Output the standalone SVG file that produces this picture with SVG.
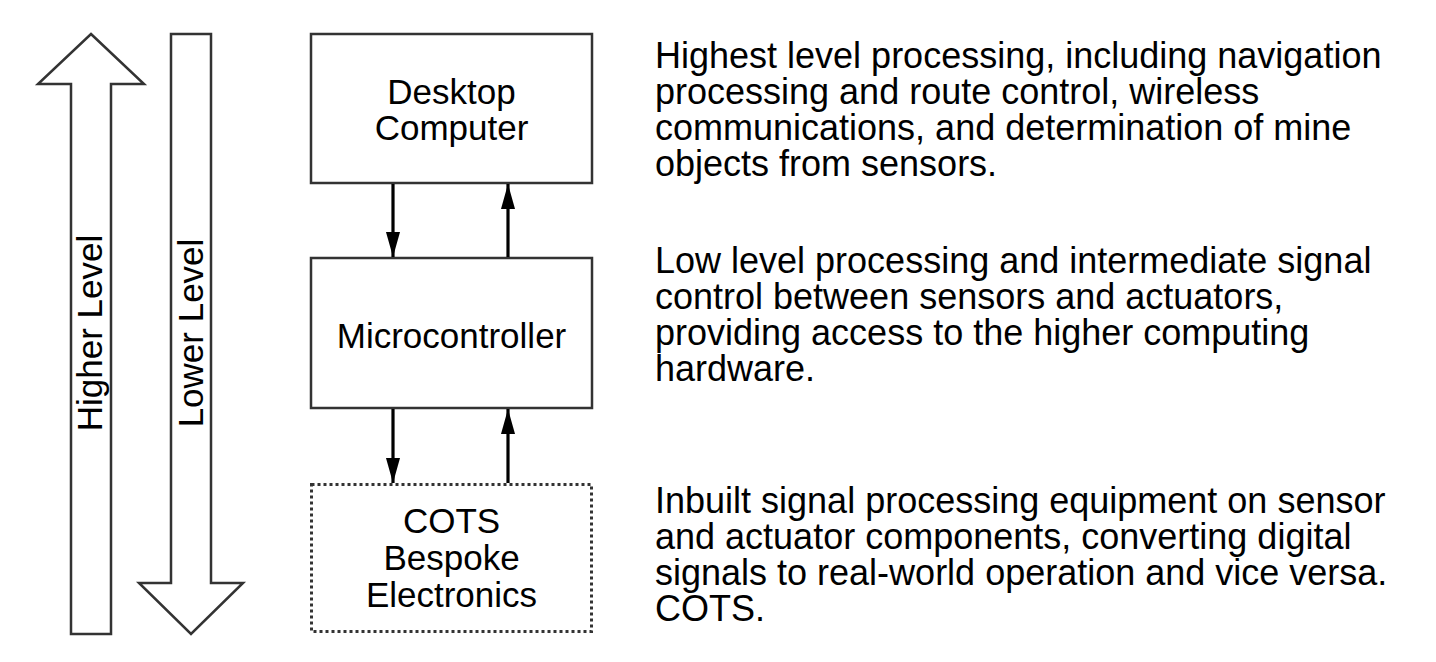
<svg xmlns="http://www.w3.org/2000/svg" width="1436" height="662" viewBox="0 0 1436 662">
<style>
.shape{fill:#fff;stroke:#333;stroke-width:2.5}
.dotted{fill:#fff;stroke:#333;stroke-width:3;stroke-dasharray:3 3}
.t{font-family:"Liberation Sans",Arial,sans-serif;font-size:36px;fill:#000}
.b{font-size:35px}
.c{text-anchor:middle}
.conn{stroke:#000;stroke-width:3.2;fill:none}
</style>
<defs>
<marker id="ah" viewBox="0 0 25 14" refX="25" refY="7" markerWidth="25" markerHeight="14" markerUnits="userSpaceOnUse" orient="auto">
<path d="M0,0 L25,7 L0,14 Z" fill="#000"/>
</marker>
</defs>
<rect width="1436" height="662" fill="#fff"/>
<g id="higher-level">
<polygon class="shape" points="91,34 144,84 111,84 111,634 71,634 71,84 38,84"/>
<text class="t b c" transform="translate(102,333) rotate(-90)">Higher Level</text>
</g>
<g id="lower-level">
<polygon class="shape" points="171,34 211,34 211,583 243,583 191,634 139,583 171,583"/>
<text class="t b c" transform="translate(203,333) rotate(-90)">Lower Level</text>
</g>
<g id="desktop">
<rect class="shape" x="311" y="34" width="281" height="149"/>
<text class="t b c" x="451.5" y="104">Desktop</text>
<text class="t b c" x="451.5" y="140">Computer</text>
</g>
<g id="microcontroller">
<rect class="shape" x="311" y="258" width="281" height="150"/>
<text class="t b c" x="451.5" y="348">Microcontroller</text>
</g>
<g id="cots">
<rect class="dotted" x="311.5" y="484.5" width="280" height="147"/>
<text class="t b c" x="451.5" y="533">COTS</text>
<text class="t b c" x="451.5" y="570">Bespoke</text>
<text class="t b c" x="451.5" y="607">Electronics</text>
</g>
<g id="connectors">
<line class="conn" x1="393" y1="184" x2="393" y2="257" marker-end="url(#ah)"/>
<line class="conn" x1="508" y1="257" x2="508" y2="184" marker-end="url(#ah)"/>
<line class="conn" x1="393" y1="409" x2="393" y2="483" marker-end="url(#ah)"/>
<line class="conn" x1="508" y1="483" x2="508" y2="409" marker-end="url(#ah)"/>
</g>
<g id="desc-high">
<text class="t" x="655" y="68">Highest level processing, including navigation</text>
<text class="t" x="655" y="104">processing and route control, wireless</text>
<text class="t" x="655" y="140">communications, and determination of mine</text>
<text class="t" x="655" y="176">objects from sensors.</text>
</g>
<g id="desc-low">
<text class="t" x="655" y="273">Low level processing and intermediate signal</text>
<text class="t" x="655" y="309">control between sensors and actuators,</text>
<text class="t" x="655" y="345">providing access to the higher computing</text>
<text class="t" x="655" y="381">hardware.</text>
</g>
<g id="desc-cots">
<text class="t" x="655" y="513">Inbuilt signal processing equipment on sensor</text>
<text class="t" x="655" y="549">and actuator components, converting digital</text>
<text class="t" x="655" y="585">signals to real-world operation and vice versa.</text>
<text class="t" x="655" y="621">COTS.</text>
</g>
</svg>
